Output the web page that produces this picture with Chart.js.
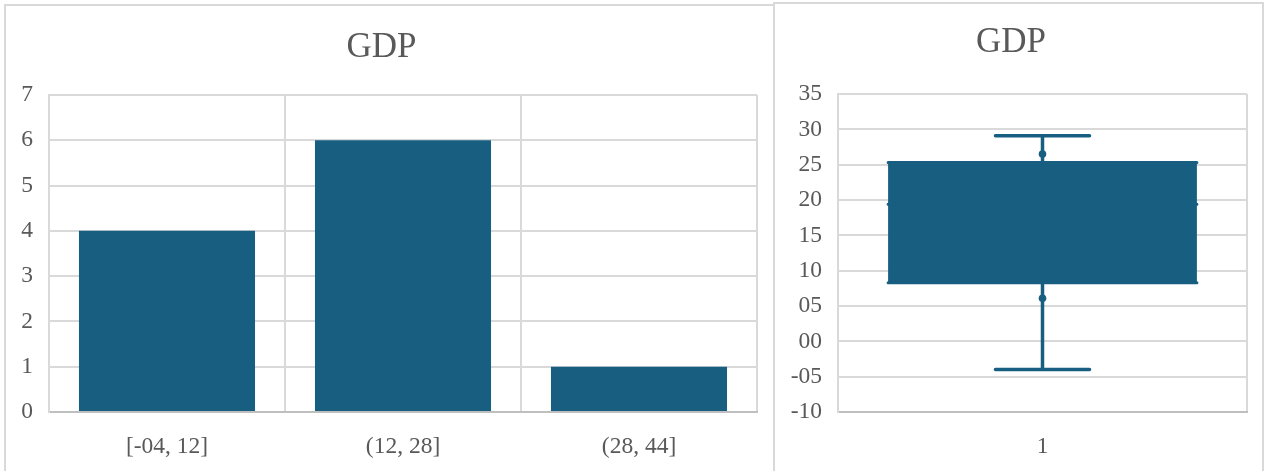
<!DOCTYPE html>
<html>
<head>
<meta charset="utf-8">
<title>GDP</title>
<script src="https://cdn.jsdelivr.net/npm/chart.js@4.4.1/dist/chart.umd.min.js"></script>
<style>
  html, body { margin: 0; padding: 0; background: #fff; overflow: hidden; }
  .panel { position: absolute; box-sizing: border-box; border: 2px solid #d9d9d9; background: #fff; height: 520px; }
  #histPanel { left: 4px; top: 4px; width: 771px; }
  #boxPanel { left: 773px; top: 2px; width: 491px; }
  .plot { position: relative; }
  #histPanel .plot { width: 767px; height: 465px; }
  #boxPanel .plot { width: 487px; height: 467px; }
</style>
</head>
<body>
<div class="panel" id="histPanel"><div class="plot"><canvas id="histChart"></canvas></div></div>
<div class="panel" id="boxPanel"><div class="plot"><canvas id="boxChart"></canvas></div></div>
<script>
// Histogram bins
const binLabels = ['[-04, 12]', '(12, 28]', '(28, 44]'];
const binCounts = [4, 6, 1];

// Box & whisker summary
const boxLabels = ['1'];
const whiskerLow = [-4.0];
const quartile1 = [8.3];
const medians = [19.4];
const quartile3 = [25.3];
const whiskerHigh = [29.1];
const innerPoints = [26.5, 6.1];

const FONT = "'Liberation Serif', 'Times New Roman', serif";
const TEXT = '#595959';
const BLUE = '#175e80';
const GRID = '#d9d9d9';
const AXIS = '#bfbfbf';
const TICK_SIZE = 23.5;

Chart.defaults.font.family = FONT;
Chart.defaults.color = TEXT;

function titleOpts(padTop, padBottom) {
    return {
        display: true,
        text: 'GDP',
        color: TEXT,
        font: { family: FONT, size: 35, weight: 'normal' },
        padding: { top: padTop, bottom: padBottom }
    };
}

// Histogram
new Chart(document.getElementById('histChart'), {
    type: 'bar',
    data: {
        labels: binLabels,
        datasets: [{
            data: binCounts,
            backgroundColor: BLUE,
            barPercentage: 0.746,
            categoryPercentage: 1
        }]
    },
    options: {
        responsive: true,
        maintainAspectRatio: false,
        animation: false,
        layout: { padding: { left: 0, right: 16, top: 0, bottom: 0 } },
        plugins: {
            legend: { display: false },
            tooltip: { enabled: false },
            title: titleOpts(21, 26)
        },
        scales: {
            x: {
                grid: { color: GRID, lineWidth: 2, drawTicks: false },
                border: { color: AXIS, width: 2 },
                ticks: { padding: 21, font: { size: TICK_SIZE } },
                afterFit: (s) => { s.height = 59; }
            },
            y: {
                min: 0,
                max: 7,
                grid: { color: GRID, lineWidth: 2, drawTicks: false },
                border: { color: GRID, width: 2 },
                ticks: { stepSize: 1, padding: 16, font: { size: TICK_SIZE } },
                afterFit: (s) => { s.width = 43; }
            }
        }
    }
});

// Whisker stem, caps and median line for the box plot
const whiskerPlugin = {
    id: 'whiskers',
    beforeDatasetsDraw(chart) {
        const { ctx, scales: { x, y } } = chart;
        const capHalf = (x.width / boxLabels.length) * 0.23 / 2;
        ctx.save();
        ctx.strokeStyle = BLUE;
        ctx.lineWidth = 3.5;
        ctx.lineCap = 'round';
        boxLabels.forEach((lab, i) => {
            const cx = x.getPixelForValue(i);
            const yLo = y.getPixelForValue(whiskerLow[i]);
            const yHi = y.getPixelForValue(whiskerHigh[i]);
            ctx.beginPath();
            ctx.moveTo(cx, yLo);
            ctx.lineTo(cx, yHi);
            ctx.moveTo(cx - capHalf, yLo);
            ctx.lineTo(cx + capHalf, yLo);
            ctx.moveTo(cx - capHalf, yHi);
            ctx.lineTo(cx + capHalf, yHi);
            ctx.stroke();
        });
        ctx.restore();
    },
    afterDatasetsDraw(chart) {
        const { ctx, scales: { y } } = chart;
        const bars = chart.getDatasetMeta(0).data;
        ctx.save();
        ctx.strokeStyle = BLUE;
        ctx.lineWidth = 3;
        ctx.lineCap = 'round';
        boxLabels.forEach((lab, i) => {
            const bar = bars[i];
            const half = bar.width / 2;
            const top = y.getPixelForValue(quartile3[i]);
            const bot = y.getPixelForValue(quartile1[i]);
            const med = y.getPixelForValue(medians[i]);
            ctx.beginPath();
            ctx.moveTo(bar.x - half, med);
            ctx.lineTo(bar.x + half, med);
            ctx.moveTo(bar.x - half, top);
            ctx.lineTo(bar.x + half, top);
            ctx.moveTo(bar.x - half, bot);
            ctx.lineTo(bar.x + half, bot);
            ctx.stroke();
        });
        ctx.restore();
    }
};

new Chart(document.getElementById('boxChart'), {
    type: 'bar',
    data: {
        labels: boxLabels,
        datasets: [{
            type: 'bar',
            data: quartile1.map((q, i) => [q, quartile3[i]]),
            backgroundColor: BLUE,
            barPercentage: 0.755,
            categoryPercentage: 1,
            grouped: false
        }, {
            type: 'line',
            data: innerPoints.map(v => ({ x: boxLabels[0], y: v })),
            showLine: false,
            pointRadius: 3.8,
            pointBackgroundColor: BLUE,
            pointBorderWidth: 0
        }]
    },
    options: {
        responsive: true,
        maintainAspectRatio: false,
        animation: false,
        layout: { padding: { left: 0, right: 15, top: 0, bottom: 0 } },
        plugins: {
            legend: { display: false },
            tooltip: { enabled: false },
            title: titleOpts(18, 30)
        },
        scales: {
            x: {
                offset: true,
                grid: { color: GRID, lineWidth: 2, drawTicks: false, offset: true },
                border: { color: AXIS, width: 2 },
                ticks: { padding: 21, font: { size: TICK_SIZE } },
                afterFit: (s) => { s.height = 59; }
            },
            y: {
                min: -10,
                max: 35,
                grid: { color: GRID, lineWidth: 2, drawTicks: false },
                border: { color: GRID, width: 2 },
                ticks: {
                    stepSize: 5,
                    padding: 16,
                    font: { size: TICK_SIZE },
                    callback: (v) => (v < 0 ? '-' : '') + String(Math.abs(v)).padStart(2, '0')
                },
                afterFit: (s) => { s.width = 63; }
            }
        }
    },
    plugins: [whiskerPlugin]
});
</script>
</body>
</html>
